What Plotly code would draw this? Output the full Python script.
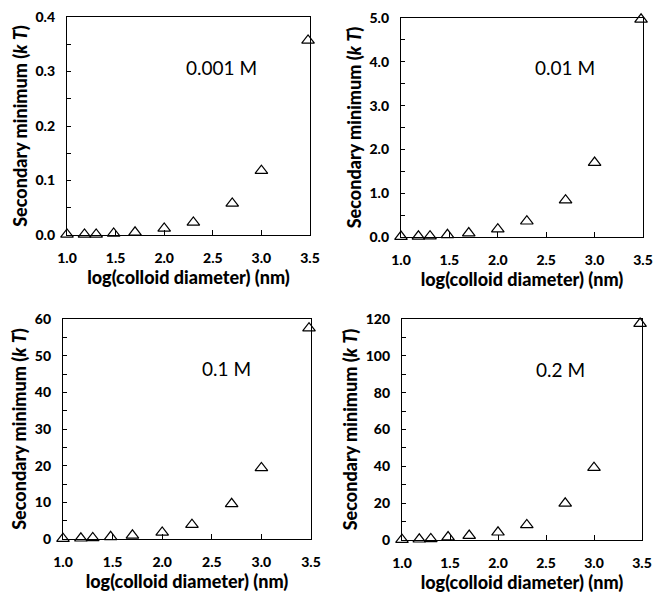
import plotly.graph_objects as go

W, H = 653, 593

log_diameter = [1.0, 1.18, 1.30, 1.48, 1.70, 2.0, 2.30, 2.70, 3.0, 3.48]
sm_0001 = [0.001, 0.001, 0.001, 0.003, 0.005, 0.012, 0.023, 0.058, 0.118, 0.357]
sm_001 = [0.01, 0.015, 0.02, 0.05, 0.09, 0.18, 0.36, 0.84, 1.70, 4.97]
sm_01 = [0.1, 0.2, 0.3, 0.6, 1.0, 1.8, 3.9, 9.6, 19.4, 57.5]
sm_02 = [0.2, 0.4, 0.6, 1.6, 2.4, 4.2, 8.2, 19.9, 39.3, 117.5]
labels = ["0.001 M", "0.01 M", "0.1 M", "0.2 M"]
series = [sm_0001, sm_001, sm_01, sm_02]

# pixel boxes (x0, x1, ytop, ybottom)
boxes = [(67, 310, 17, 235), (401, 643, 18, 237), (63, 311, 319, 539), (402, 642, 319, 540)]
yaxis_cfg = [
    dict(range=[0, 0.4], dtick=0.1, tickformat=".1f"),
    dict(range=[0, 5.0], dtick=1.0, tickformat=".1f"),
    dict(range=[0, 60], dtick=10, tickformat="d"),
    dict(range=[0, 120], dtick=20, tickformat="d"),
]
label_pos = [(222, 68), (565, 67), (226, 368), (560, 369)]

fig = go.Figure()
font_b = "Lato"
for i, (ys, box) in enumerate(zip(series, boxes)):
    n = "" if i == 0 else str(i + 1)
    x0, x1, yt, yb = box
    fig.add_trace(go.Scatter(
        x=log_diameter, y=ys, mode="markers", cliponaxis=False,
        marker=dict(symbol="triangle-up-open", size=11, color="black", line=dict(width=1.2, color="black")),
        xaxis="x" + n, yaxis="y" + n, showlegend=False))
    fig.layout["xaxis" + n] = dict(
        domain=[x0 / W, x1 / W], anchor="y" + n, range=[1.0, 3.5], dtick=0.5, tickformat=".1f",
        automargin=False,
        showline=True, linecolor="black", linewidth=1.3, mirror=True, ticks="inside", ticklen=5,
        tickcolor="black", showgrid=False, zeroline=False, ticklabelstandoff=10,
        tickfont=dict(family=font_b, size=14, color="black", weight=900),
        title=dict(text="log(colloid diameter) (nm)", standoff=3,
                   font=dict(family=font_b, size=18, color="black", weight=900)))
    yc = yaxis_cfg[i]
    fig.layout["yaxis" + n] = dict(
        domain=[1 - yb / H, 1 - yt / H], anchor="x" + n, range=list(yc["range"]), dtick=yc["dtick"],
        tickformat=yc["tickformat"], automargin=False,
        showline=True, linecolor="black", linewidth=1.3, mirror=True, ticks="inside", ticklen=4,
        tickcolor="black", showgrid=False, zeroline=False, ticklabelstandoff=8,
        minor=dict(ticks="inside", ticklen=4, tickcolor="black", dtick=yc["dtick"] / 2),
        tickfont=dict(family=font_b, size=14, color="black", weight=900),
        title=dict(text="Secondary minimum (<i>k</i> <i>T</i>)", standoff=3,
                   font=dict(family=font_b, size=18, color="black", weight=900)))
    lx, ly = label_pos[i]
    fig.add_annotation(x=lx / W, y=1 - ly / H, xref="paper", yref="paper", text=labels[i],
                       xanchor="center", yanchor="middle",
                       showarrow=False, font=dict(family="Lato", size=19, color="black"))

fig.update_layout(width=W, height=H, margin=dict(l=0, r=0, t=0, b=0, autoexpand=False),
                  paper_bgcolor="white", plot_bgcolor="white")
fig.write_html("out.html")
